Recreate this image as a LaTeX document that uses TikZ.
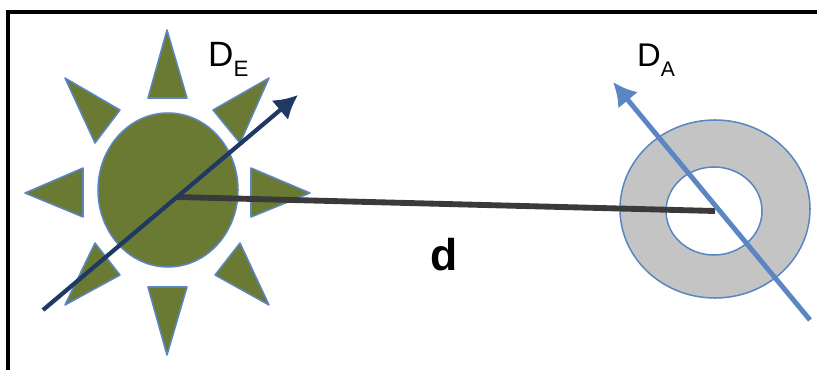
\documentclass[tikz,border=0pt]{standalone}
\usepackage{fontspec}
\setmainfont{Liberation Sans}
\usetikzlibrary{arrows.meta}
\definecolor{sungreen}{RGB}{107,122,50}
\definecolor{rimblue}{RGB}{91,134,196}
\definecolor{navy}{RGB}{31,56,100}
\definecolor{rodgray}{RGB}{58,58,58}
\definecolor{ringgray}{RGB}{196,196,196}
\tikzset{%
    sunpart/.style={fill=sungreen,draw=rimblue,line width=1.3pt,line join=round},
    ringpart/.style={draw=rimblue,line width=1.3pt},
    dirarrow/.style={->,line width=3.6pt},
    rod/.style={draw=rodgray,line width=5pt},
    lbl/.style={inner sep=0pt,anchor=base west},
}

\begin{document}
\begin{tikzpicture}[x=0.03cm,y=-0.03cm,>={Latex[length=20pt,width=22pt]}]
      \useasboundingbox (0,0) rectangle (817,370);
      \draw[line width=2.6pt] (8,372) -- (8,12) -- (819,12);

      % sun
      \draw[sunpart] (168,190) ellipse [x radius=70,y radius=77];
      \draw[sunpart] (167,30) -- (187,98) -- (148,98) -- cycle;
      \draw[sunpart] (167,355) -- (187,287) -- (148,287) -- cycle;
      \draw[sunpart] (25,193) -- (83,168) -- (83,217) -- cycle;
      \draw[sunpart] (310,193) -- (251,168) -- (251,217) -- cycle;
      \draw[sunpart] (65,78) -- (120,110) -- (95,143) -- cycle;
      \draw[sunpart] (269,78) -- (213,110) -- (240,143) -- cycle;
      \draw[sunpart] (65,305) -- (120,275) -- (95,243) -- cycle;
      \draw[sunpart] (269,305) -- (215,275) -- (240,243) -- cycle;

      % ring
      \path[fill=ringgray,even odd rule] (715,209) ellipse [x radius=95,y radius=89]
            (714,211) ellipse [x radius=48,y radius=44];
      \draw[ringpart] (715,209) ellipse [x radius=95,y radius=89];
      \draw[ringpart] (714,211) ellipse [x radius=48,y radius=44];

      \coordinate (sun) at (177,197);
      \coordinate (ring) at (715,211);
      \draw[rod] (sun) -- (ring);

      \coordinate (etail) at (43,310);
      \coordinate (ehead) at (298,95);
      \draw[dirarrow,navy] (etail) -- (ehead);

      \coordinate (atail) at (810,320);
      \coordinate (ahead) at (613,82);
      \draw[dirarrow,rimblue,line width=4.2pt] (atail) -- (ahead);

      \node[lbl,font=\fontsize{30}{30}\selectfont] (de) at (208,67) {D\raisebox{-8.5pt}{\fontsize{19}{19}\selectfont E}};
      \node[lbl,font=\fontsize{28}{28}\selectfont] (da) at (637,67) {D\raisebox{-8.5pt}{\fontsize{18}{18}\selectfont A}};
      \node[lbl,font=\fontsize{38}{38}\selectfont\bfseries] (d) at (430,270) {d};
    \end{tikzpicture}
\end{document}
